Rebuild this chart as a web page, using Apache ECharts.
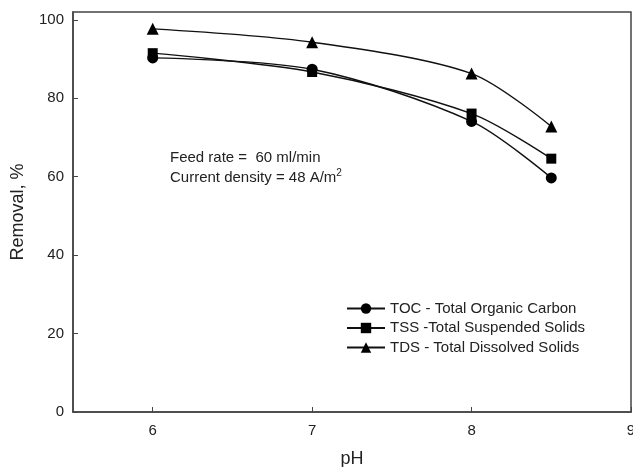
<!DOCTYPE html>
<html>
<head>
<meta charset="utf-8">
<script src="https://cdn.jsdelivr.net/npm/echarts@6/dist/echarts.min.js"></script>
<style>
  html, body { margin: 0; padding: 0; background: #fff; }
  #main { width: 633px; height: 467px; }
</style>
</head>
<body>
<div id="main"></div>
<script>
// data
var ph = [6, 7, 8, 8.5];
var toc = [90.3, 87.4, 74.1, 59.7];
var tss = [91.5, 86.7, 76.1, 64.6];
var tds = [97.7, 94.3, 86.3, 72.8];
var xTicks = [6, 7, 8, 9];
var yTicks = [0, 20, 40, 60, 80, 100];

var seriesNames = [
  'TOC - Total Organic Carbon',
  'TSS -Total Suspended Solids',
  'TDS - Total Dissolved Solids'
];

function pairs(ys) {
  var out = [];
  for (var i = 0; i < ph.length; i++) {
    out.push([ph[i], ys[i]]);
  }
  return out;
}

var font = 'Liberation Sans, Arial, sans-serif';

function line(name, ys, symbol, size) {
  return {
    name: name,
    type: 'line',
    smooth: 0.3,
    data: pairs(ys),
    symbol: symbol,
    symbolSize: size,
    lineStyle: { color: '#111', width: 1.4 },
    itemStyle: { color: '#000' },
    emphasis: { disabled: true },
    z: 3
  };
}

var chart = echarts.init(document.getElementById('main'));
var option = {
  backgroundColor: '#fff',
  animation: false,
  textStyle: { fontFamily: font },
  grid: {
    left: 73, right: 2, top: 12, bottom: 55,
    show: true, borderColor: '#444', borderWidth: 1.5,
    containLabel: false,
    outerBoundsMode: 'none'
  },
  legend: {
    orient: 'vertical',
    left: 341,
    top: 296,
    itemWidth: 38,
    itemHeight: 13,
    itemGap: 4.5,
    textStyle: { fontSize: 15, color: '#222', fontFamily: font },
    data: seriesNames
  },
  xAxis: {
    type: 'value',
    min: 5.5,
    max: 9,
    name: 'pH',
    nameLocation: 'middle',
    nameGap: 38,
    nameTextStyle: { fontSize: 18, color: '#222' },
    splitLine: { show: false },
    axisLine: { show: true, lineStyle: { color: '#444', width: 1.5 } },
    axisTick: { show: true, inside: true, length: 5, customValues: xTicks, lineStyle: { color: '#444' } },
    axisLabel: { fontSize: 15, color: '#222', margin: 11, customValues: xTicks }
  },
  yAxis: {
    type: 'value',
    min: 0,
    max: 102,
    name: 'Removal, %',
    nameLocation: 'middle',
    nameGap: 46,
    nameTextStyle: { fontSize: 18, color: '#222' },
    splitLine: { show: false },
    axisLine: { show: true, lineStyle: { color: '#444', width: 1.5 } },
    axisTick: { show: true, inside: true, length: 5, customValues: yTicks, lineStyle: { color: '#444' } },
    axisLabel: { fontSize: 15, color: '#222', margin: 9, customValues: yTicks }
  },
  graphic: [{
    type: 'text',
    left: 170,
    top: 148,
    style: {
      text: 'Feed rate =  60 ml/min\nCurrent density = 48 A/m{sup|2}',
      font: '15px ' + font,
      fill: '#222',
      lineHeight: 20,
      rich: {
        sup: { fontSize: 10, verticalAlign: 'top', padding: [0, 0, 8, 0] }
      }
    }
  }],
  series: [
    line(seriesNames[0], toc, 'circle', 11),
    line(seriesNames[1], tss, 'rect', 10),
    line(seriesNames[2], tds, 'triangle', 12)
  ]
};
chart.setOption(option);
</script>
</body>
</html>
